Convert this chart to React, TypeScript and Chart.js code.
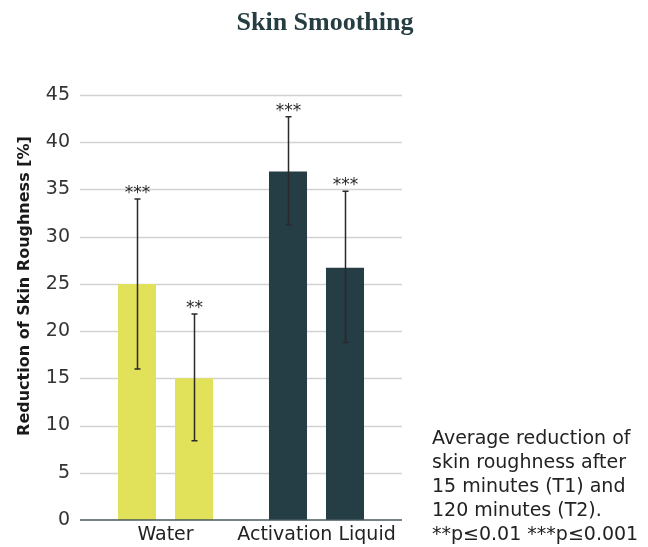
import React, { useEffect, useRef } from "react";
import { Chart, registerables } from "chart.js";

Chart.register(...registerables);

const categories = ["Water", "Activation Liquid"];
const seriesNames = ["T1 (15 min)", "T2 (120 min)"];
const t1Values = [25, 36.9];
const t2Values = [15, 26.7];
const t1ErrLow = [16, 31.3];
const t1ErrHigh = [34, 42.7];
const t2ErrLow = [8.4, 18.8];
const t2ErrHigh = [21.8, 34.8];
const t1Sig = ["***", "***"];
const t2Sig = ["**", "***"];
const categoryColors = ["#e2e15a", "#253d44"];
const yTicks = [0, 5, 10, 15, 20, 25, 30, 35, 40, 45];
const chartTitle = "Skin Smoothing";
const yAxisTitle = "Reduction of Skin Roughness [%]";
const noteLines = [
  "Average reduction of",
  "skin roughness after",
  "15 minutes (T1) and",
  "120 minutes (T2).",
  "**p≤0.01 ***p≤0.001",
];

const errLows = [t1ErrLow, t2ErrLow];
const errHighs = [t1ErrHigh, t2ErrHigh];
const sigs = [t1Sig, t2Sig];

const overlay = {
  id: "overlay",
  beforeDatasetsDraw(chart: any) {
    const { ctx, chartArea, scales } = chart;
    const y = scales.y;
    ctx.save();
    ctx.strokeStyle = "#d2d2d2";
    ctx.lineWidth = 1.5;
    yTicks.forEach((v) => {
      if (v === 0) return;
      const py = Math.round(y.getPixelForValue(v)) + 0.5;
      ctx.beginPath();
      ctx.moveTo(chartArea.left - 10, py);
      ctx.lineTo(chartArea.right + 10, py);
      ctx.stroke();
    });
    ctx.restore();
  },
  afterDatasetsDraw(chart: any) {
    const { ctx, chartArea, scales } = chart;
    const y = scales.y;
    ctx.save();
    const by = y.getPixelForValue(0);
    ctx.strokeStyle = "#46585d";
    ctx.lineWidth = 1.5;
    ctx.beginPath();
    ctx.moveTo(chartArea.left - 10, by);
    ctx.lineTo(chartArea.right + 10, by);
    ctx.stroke();
    chart.data.datasets.forEach((ds: any, di: number) => {
      const meta = chart.getDatasetMeta(di);
      meta.data.forEach((bar: any, i: number) => {
        const x = Math.round(bar.x) + 0.5;
        const yl = y.getPixelForValue(errLows[di][i]);
        const yh = y.getPixelForValue(errHighs[di][i]);
        ctx.strokeStyle = "#2a2a2a";
        ctx.lineWidth = 1.5;
        ctx.beginPath();
        ctx.moveTo(x, yl);
        ctx.lineTo(x, yh);
        ctx.moveTo(x - 3, yl);
        ctx.lineTo(x + 3, yl);
        ctx.moveTo(x - 3, yh);
        ctx.lineTo(x + 3, yh);
        ctx.stroke();
        ctx.fillStyle = "#2a2a2a";
        ctx.font = "17px 'DejaVu Sans'";
        ctx.textAlign = "center";
        ctx.textBaseline = "alphabetic";
        ctx.fillText(sigs[di][i], x, yh - 1);
      });
    });
    ctx.restore();
  },
  afterDraw(chart: any) {
    const { ctx } = chart;
    ctx.save();
    ctx.fillStyle = "#263d42";
    ctx.font = "bold 26px 'Liberation Serif'";
    ctx.textAlign = "center";
    ctx.textBaseline = "alphabetic";
    ctx.fillText(chartTitle, 325, 30);
    ctx.save();
    ctx.translate(25, 286);
    ctx.rotate(-Math.PI / 2);
    ctx.fillStyle = "#1a1a1a";
    ctx.font = "bold 16px 'DejaVu Sans'";
    ctx.textAlign = "center";
    ctx.textBaseline = "middle";
    ctx.fillText(yAxisTitle, 0, 0);
    ctx.restore();
    ctx.fillStyle = "#222";
    ctx.font = "19px 'DejaVu Sans'";
    ctx.textAlign = "left";
    ctx.textBaseline = "middle";
    noteLines.forEach((line, i) => {
      ctx.fillText(line, 432, 439 + i * 24);
    });
    ctx.restore();
  },
};

export default function App() {
  const ref = useRef<HTMLCanvasElement>(null);
  useEffect(() => {
    document.body.style.margin = "0";
    const chart = new Chart(ref.current!, {
      type: "bar",
      data: {
        labels: categories,
        datasets: [
          {
            label: seriesNames[0],
            data: t1Values,
            backgroundColor: categoryColors,
            categoryPercentage: 0.755,
            barPercentage: 0.667,
          },
          {
            label: seriesNames[1],
            data: t2Values,
            backgroundColor: categoryColors,
            categoryPercentage: 0.755,
            barPercentage: 0.667,
          },
        ],
      },
      options: {
        responsive: false,
        animation: false,
        devicePixelRatio: 1,
        layout: { padding: { top: 95, right: 256, left: 0, bottom: 0 } },
        plugins: {
          legend: { display: false },
          tooltip: { enabled: false },
        },
        scales: {
          y: {
            min: 0,
            max: 45,
            afterFit: (s: any) => {
              s.width = 90;
              s.paddingTop = 0;
              s.paddingBottom = 0;
            },
            afterBuildTicks: (s: any) => {
              s.ticks = yTicks.map((v) => ({ value: v }));
            },
            grid: { display: false, drawTicks: false },
            border: { display: false },
            ticks: {
              padding: 20,
              color: "#333",
              font: { family: "'DejaVu Sans'", size: 19 },
            },
          },
          x: {
            afterFit: (s: any) => {
              s.height = 27;
              s.paddingLeft = 0;
              s.paddingRight = 0;
            },
            grid: { display: false, drawTicks: false },
            border: { display: false },
            ticks: {
              padding: 4,
              color: "#222",
              maxRotation: 0,
              minRotation: 0,
              autoSkip: false,
              font: { family: "'DejaVu Sans'", size: 19 },
            },
          },
        },
      },
      plugins: [overlay],
    });
    return () => chart.destroy();
  }, []);
  return <canvas ref={ref} width={648} height={547} style={{ display: "block" }} />;
}
